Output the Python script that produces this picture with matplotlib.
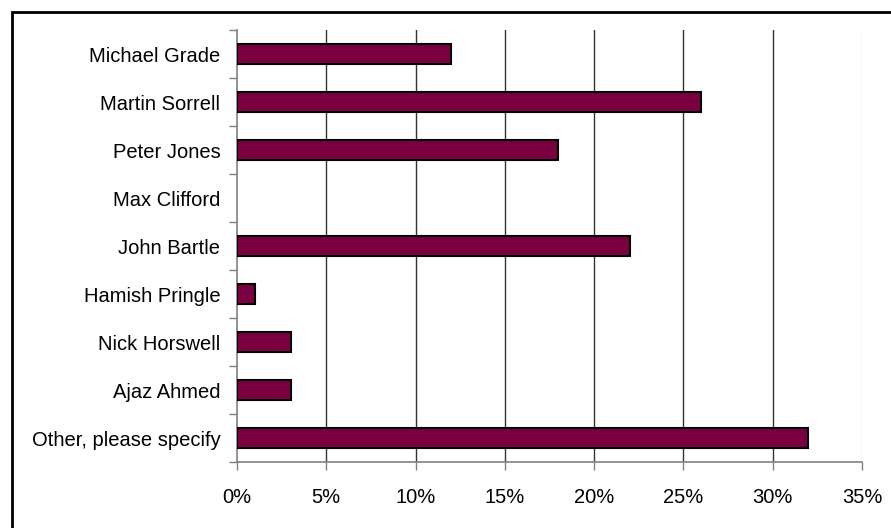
import matplotlib
matplotlib.use("Agg")
import matplotlib.pyplot as plt
import numpy as np
from matplotlib.patches import Rectangle

names = ["Michael Grade", "Martin Sorrell", "Peter Jones", "Max Clifford",
         "John Bartle", "Hamish Pringle", "Nick Horswell", "Ajaz Ahmed",
         "Other, please specify"]
pct = [12, 26, 18, 0, 22, 1, 3, 3, 32]
xticks = [0, 5, 10, 15, 20, 25, 30, 35]

plt.rcParams['font.family'] = ['Liberation Sans', 'DejaVu Sans']

W, H = 891, 528
fig = plt.figure(figsize=(W / 100, H / 100), dpi=100)
ax = fig.add_axes([237 / W, 1 - 462 / H, (862 - 237) / W, (462 - 30) / H])

n = len(names)
ypos = np.arange(n)
# empty answers get no outline
lws = [1.5 if v > 0 else 0 for v in pct]
ax.barh(ypos, pct, height=0.42, color='#7b0041', edgecolor='black',
        linewidth=lws, zorder=3)

ax.set_xlim(0, 35)
ax.set_ylim(n - 0.5, -0.5)

# vertical grid lines, the last one faded
for x in xticks[1:-1]:
    ax.axvline(x, color='#333333', lw=1.0, zorder=1)
ax.axvline(xticks[-1], color='#dddddd', lw=1.0, zorder=1)

ax.set_xticks(xticks)
ax.set_xticklabels([f"{x}%" for x in xticks])
ax.set_yticks(ypos)
ax.set_yticklabels(names)
ax.set_yticks(np.arange(n + 1) - 0.5, minor=True)
ax.tick_params(axis='y', which='major', length=0, pad=12, labelsize=14.5)
ax.tick_params(axis='y', which='minor', length=6, width=1, color='#808080')
ax.tick_params(axis='x', length=6, width=1, color='#808080', pad=13, labelsize=14.5)

for s in ['top', 'right']:
    ax.spines[s].set_visible(False)
for s in ['left', 'bottom']:
    ax.spines[s].set_color('#808080')
    ax.spines[s].set_linewidth(1.2)

# outer frame around the chart area
fig.patches.append(Rectangle((12 / W, -0.1), 1.2, 1 - 12 / H + 0.1,
                             transform=fig.transFigure, fill=False,
                             edgecolor='black', lw=2.0))

fig.savefig("out.png", dpi=100)
